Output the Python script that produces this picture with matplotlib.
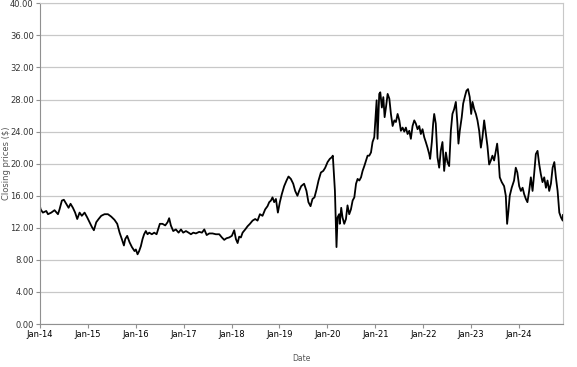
import matplotlib
matplotlib.use("Agg")
import matplotlib.pyplot as plt
import matplotlib.dates as mdates
from matplotlib.ticker import FormatStrFormatter, MultipleLocator
import pandas as pd

# closing prices
dates = [
    "2014-01-02", "2014-01-06", "2014-01-23", "2014-02-18", "2014-03-03", "2014-03-28",
    "2014-04-22", "2014-05-18", "2014-05-30", "2014-06-17", "2014-07-02", "2014-07-20",
    "2014-08-07", "2014-08-22", "2014-09-09", "2014-09-26", "2014-10-12", "2014-10-30",
    "2014-11-16", "2014-12-07", "2014-12-27", "2015-01-14", "2015-02-01", "2015-02-16",
    "2015-03-06", "2015-03-24", "2015-04-13", "2015-05-08", "2015-06-03", "2015-06-28",
    "2015-07-23", "2015-08-13", "2015-08-31", "2015-09-17", "2015-10-03", "2015-10-13",
    "2015-10-28", "2015-11-15", "2015-12-03", "2015-12-23", "2016-01-02", "2016-01-15",
    "2016-01-27", "2016-02-09", "2016-02-22", "2016-03-05", "2016-03-18", "2016-03-31",
    "2016-04-13", "2016-05-03", "2016-05-21", "2016-06-08", "2016-06-23", "2016-07-03",
    "2016-07-23", "2016-08-13", "2016-08-31", "2016-09-12", "2016-09-25", "2016-10-13",
    "2016-11-02", "2016-11-23", "2016-12-11", "2016-12-28", "2017-01-18", "2017-02-07",
    "2017-02-25", "2017-03-15", "2017-04-04", "2017-04-29", "2017-05-20", "2017-06-07",
    "2017-06-25", "2017-07-15", "2017-08-09", "2017-09-03", "2017-09-29", "2017-10-19",
    "2017-11-06", "2017-11-23", "2017-12-14", "2018-01-03", "2018-01-21", "2018-02-03",
    "2018-02-16", "2018-02-28", "2018-03-13", "2018-03-26", "2018-04-15", "2018-05-03",
    "2018-05-21", "2018-06-10", "2018-06-30", "2018-07-18", "2018-08-05", "2018-08-25",
    "2018-09-14", "2018-10-02", "2018-10-15", "2018-10-28", "2018-11-09", "2018-11-22",
    "2018-12-05", "2018-12-20", "2019-01-04", "2019-01-19", "2019-02-06", "2019-02-24",
    "2019-03-11", "2019-03-29", "2019-04-16", "2019-05-01", "2019-05-18", "2019-05-31",
    "2019-06-16", "2019-07-08", "2019-07-26", "2019-08-10", "2019-08-26", "2019-09-10",
    "2019-09-25", "2019-10-11", "2019-10-26", "2019-11-13", "2019-12-01", "2019-12-16",
    "2020-01-03", "2020-01-20", "2020-02-04", "2020-02-12", "2020-02-20", "2020-02-28",
    "2020-03-06", "2020-03-11", "2020-03-19", "2020-03-31", "2020-04-05", "2020-04-16",
    "2020-04-26", "2020-05-09", "2020-05-22", "2020-06-03", "2020-06-16", "2020-06-29",
    "2020-07-12", "2020-07-25", "2020-08-07", "2020-08-19", "2020-09-01", "2020-09-14",
    "2020-09-26", "2020-10-09", "2020-10-22", "2020-11-03", "2020-11-16", "2020-11-29",
    "2020-12-11", "2020-12-24", "2021-01-01", "2021-01-11", "2021-01-18", "2021-01-31",
    "2021-02-08", "2021-02-20", "2021-03-03", "2021-03-13", "2021-03-23", "2021-04-05",
    "2021-04-18", "2021-04-30", "2021-05-13", "2021-05-26", "2021-06-07", "2021-06-20",
    "2021-07-03", "2021-07-15", "2021-07-28", "2021-08-10", "2021-08-22", "2021-09-04",
    "2021-09-17", "2021-09-29", "2021-10-12", "2021-10-25", "2021-11-06", "2021-11-19",
    "2021-12-02", "2021-12-14", "2021-12-27", "2022-01-09", "2022-01-21", "2022-02-03",
    "2022-02-16", "2022-02-23", "2022-03-08", "2022-03-18", "2022-03-26", "2022-04-07",
    "2022-04-20", "2022-05-03", "2022-05-15", "2022-05-28", "2022-06-10", "2022-06-23",
    "2022-07-05", "2022-07-18", "2022-07-31", "2022-08-12", "2022-08-25", "2022-09-07",
    "2022-09-19", "2022-09-27", "2022-10-07", "2022-10-22", "2022-11-02", "2022-11-17",
    "2022-11-27", "2022-12-09", "2022-12-22", "2023-01-02", "2023-01-12", "2023-01-25",
    "2023-02-07", "2023-02-19", "2023-03-04", "2023-03-17", "2023-03-29", "2023-04-11",
    "2023-04-24", "2023-05-06", "2023-05-19", "2023-06-01", "2023-06-13", "2023-06-26",
    "2023-07-09", "2023-07-19", "2023-07-29", "2023-08-08", "2023-08-23", "2023-09-10",
    "2023-09-23", "2023-10-03", "2023-10-13", "2023-10-23", "2023-11-07", "2023-11-25",
    "2023-12-08", "2023-12-20", "2024-01-03", "2024-01-16", "2024-01-29", "2024-02-10",
    "2024-02-23", "2024-03-06", "2024-03-19", "2024-04-01", "2024-04-14", "2024-04-26",
    "2024-05-09", "2024-05-22", "2024-06-04", "2024-06-16", "2024-06-29", "2024-07-12",
    "2024-07-25", "2024-08-06", "2024-08-19", "2024-09-01", "2024-09-14", "2024-09-27",
    "2024-10-09", "2024-10-22", "2024-11-04", "2024-11-17", "2024-11-30", "2024-12-02",
]
closing = [
    14.6, 14.3, 13.9, 14.1, 13.7, 13.9,
    14.2, 13.7, 14.3, 15.4, 15.5, 15.0,
    14.5, 15.0, 14.5, 13.9, 13.1, 13.9,
    13.5, 13.9, 13.3, 12.7, 12.1, 11.7,
    12.7, 13.1, 13.5, 13.7, 13.7, 13.4,
    13.0, 12.5, 11.4, 10.6, 9.8, 10.6,
    11.0, 10.2, 9.6, 9.1, 9.3, 8.7,
    9.1, 9.7, 10.6, 11.2, 11.6, 11.2,
    11.4, 11.2, 11.4, 11.2, 12.0, 12.5,
    12.5, 12.3, 12.7, 13.2, 12.3, 11.6,
    11.8, 11.4, 11.8, 11.4, 11.6, 11.4,
    11.2, 11.4, 11.3, 11.5, 11.4, 11.8,
    11.1, 11.3, 11.3, 11.2, 11.2, 10.8,
    10.5, 10.7, 10.8, 11.0, 11.7, 10.6,
    10.1, 10.9, 10.8, 11.4, 11.8, 12.2,
    12.5, 12.9, 13.1, 12.9, 13.7, 13.5,
    14.3, 14.7, 15.2, 15.4, 15.8, 15.2,
    15.6, 13.9, 15.2, 16.2, 17.2, 17.9,
    18.4, 18.1, 17.5, 16.6, 16.0, 16.6,
    17.2, 17.5, 16.6, 15.2, 14.7, 15.6,
    15.8, 16.8, 17.9, 18.9, 19.1, 19.5,
    20.2, 20.6, 20.8, 21.0, 18.7, 16.6,
    12.5, 9.6, 13.3, 13.7, 12.5, 14.5,
    13.3, 12.5, 13.1, 14.8, 13.7, 14.3,
    15.4, 15.8, 17.5, 18.1, 17.9, 18.3,
    19.1, 19.7, 20.4, 21.0, 21.0, 21.4,
    22.7, 23.3, 25.4, 27.9, 23.1, 28.7,
    28.9, 27.0, 28.3, 25.8, 27.0, 28.7,
    28.1, 26.2, 24.7, 25.4, 25.2, 26.2,
    25.4, 24.1, 24.5, 24.0, 24.5, 23.7,
    24.1, 23.1, 24.7, 25.4, 25.0, 24.3,
    24.7, 23.7, 24.3, 23.3, 22.7, 22.0,
    21.2, 20.6, 22.7, 25.0, 26.2, 25.0,
    20.8, 19.5, 21.6, 22.7, 19.1, 21.4,
    20.2, 19.7, 24.1, 26.2, 26.8, 27.7,
    25.0, 22.5, 24.1, 25.8, 27.5, 28.5,
    29.1, 29.3, 28.3, 26.2, 27.7, 26.8,
    26.2, 25.4, 24.1, 22.0, 23.3, 25.4,
    23.7, 22.2, 19.9, 20.4, 21.0, 20.4,
    21.6, 22.5, 20.8, 18.3, 17.7, 17.2,
    16.0, 12.5, 14.1, 16.0, 17.0, 17.9,
    19.5, 18.9, 17.2, 16.6, 17.0, 16.2,
    15.6, 15.2, 16.6, 18.3, 16.6, 18.7,
    21.2, 21.6, 19.9, 18.7, 17.7, 18.3,
    17.0, 17.9, 16.6, 17.5, 19.5, 20.2,
    18.3, 16.6, 13.9, 13.3, 12.9, 13.6,
]

df = pd.DataFrame({"Date": pd.to_datetime(dates), "Close": closing})

fig = plt.figure(figsize=(5.77, 3.67), dpi=100)
ax = fig.add_axes([0.0693, 0.117, 0.9064, 0.874])

ax.plot(df["Date"], df["Close"], color="black", linewidth=1.3)

ax.set_ylim(0, 40)
ax.set_xlim(pd.Timestamp("2014-01-01"), pd.Timestamp("2024-12-02"))
ax.yaxis.set_major_locator(MultipleLocator(4))
ax.yaxis.set_major_formatter(FormatStrFormatter("%.2f"))
ax.xaxis.set_major_locator(mdates.YearLocator())
ax.xaxis.set_major_formatter(mdates.DateFormatter("%b-%y"))

ax.grid(axis="y", color="#c8c8c8", linewidth=0.9)
ax.set_axisbelow(True)
for side in ["top", "right"]:
    ax.spines[side].set_color("#c8c8c8")
for side in ["left", "bottom"]:
    ax.spines[side].set_color("#909090")

ax.tick_params(axis="both", labelsize=6, length=3, width=0.8, pad=1.5)
ax.tick_params(axis="x", colors="#909090", labelcolor="black")
ax.tick_params(axis="y", colors="#909090", labelcolor="#333333")

ax.set_xlabel("Date", fontsize=5.5, color="#555555")
ax.xaxis.set_label_coords(0.5, -0.106)
ax.xaxis.label.set_verticalalignment("center")
ax.set_ylabel("Closing prices ($)", fontsize=6, color="#555555")
ax.yaxis.set_label_coords(-0.064, 0.5)
ax.yaxis.label.set_verticalalignment("center")

fig.savefig("out.png", dpi=100)
